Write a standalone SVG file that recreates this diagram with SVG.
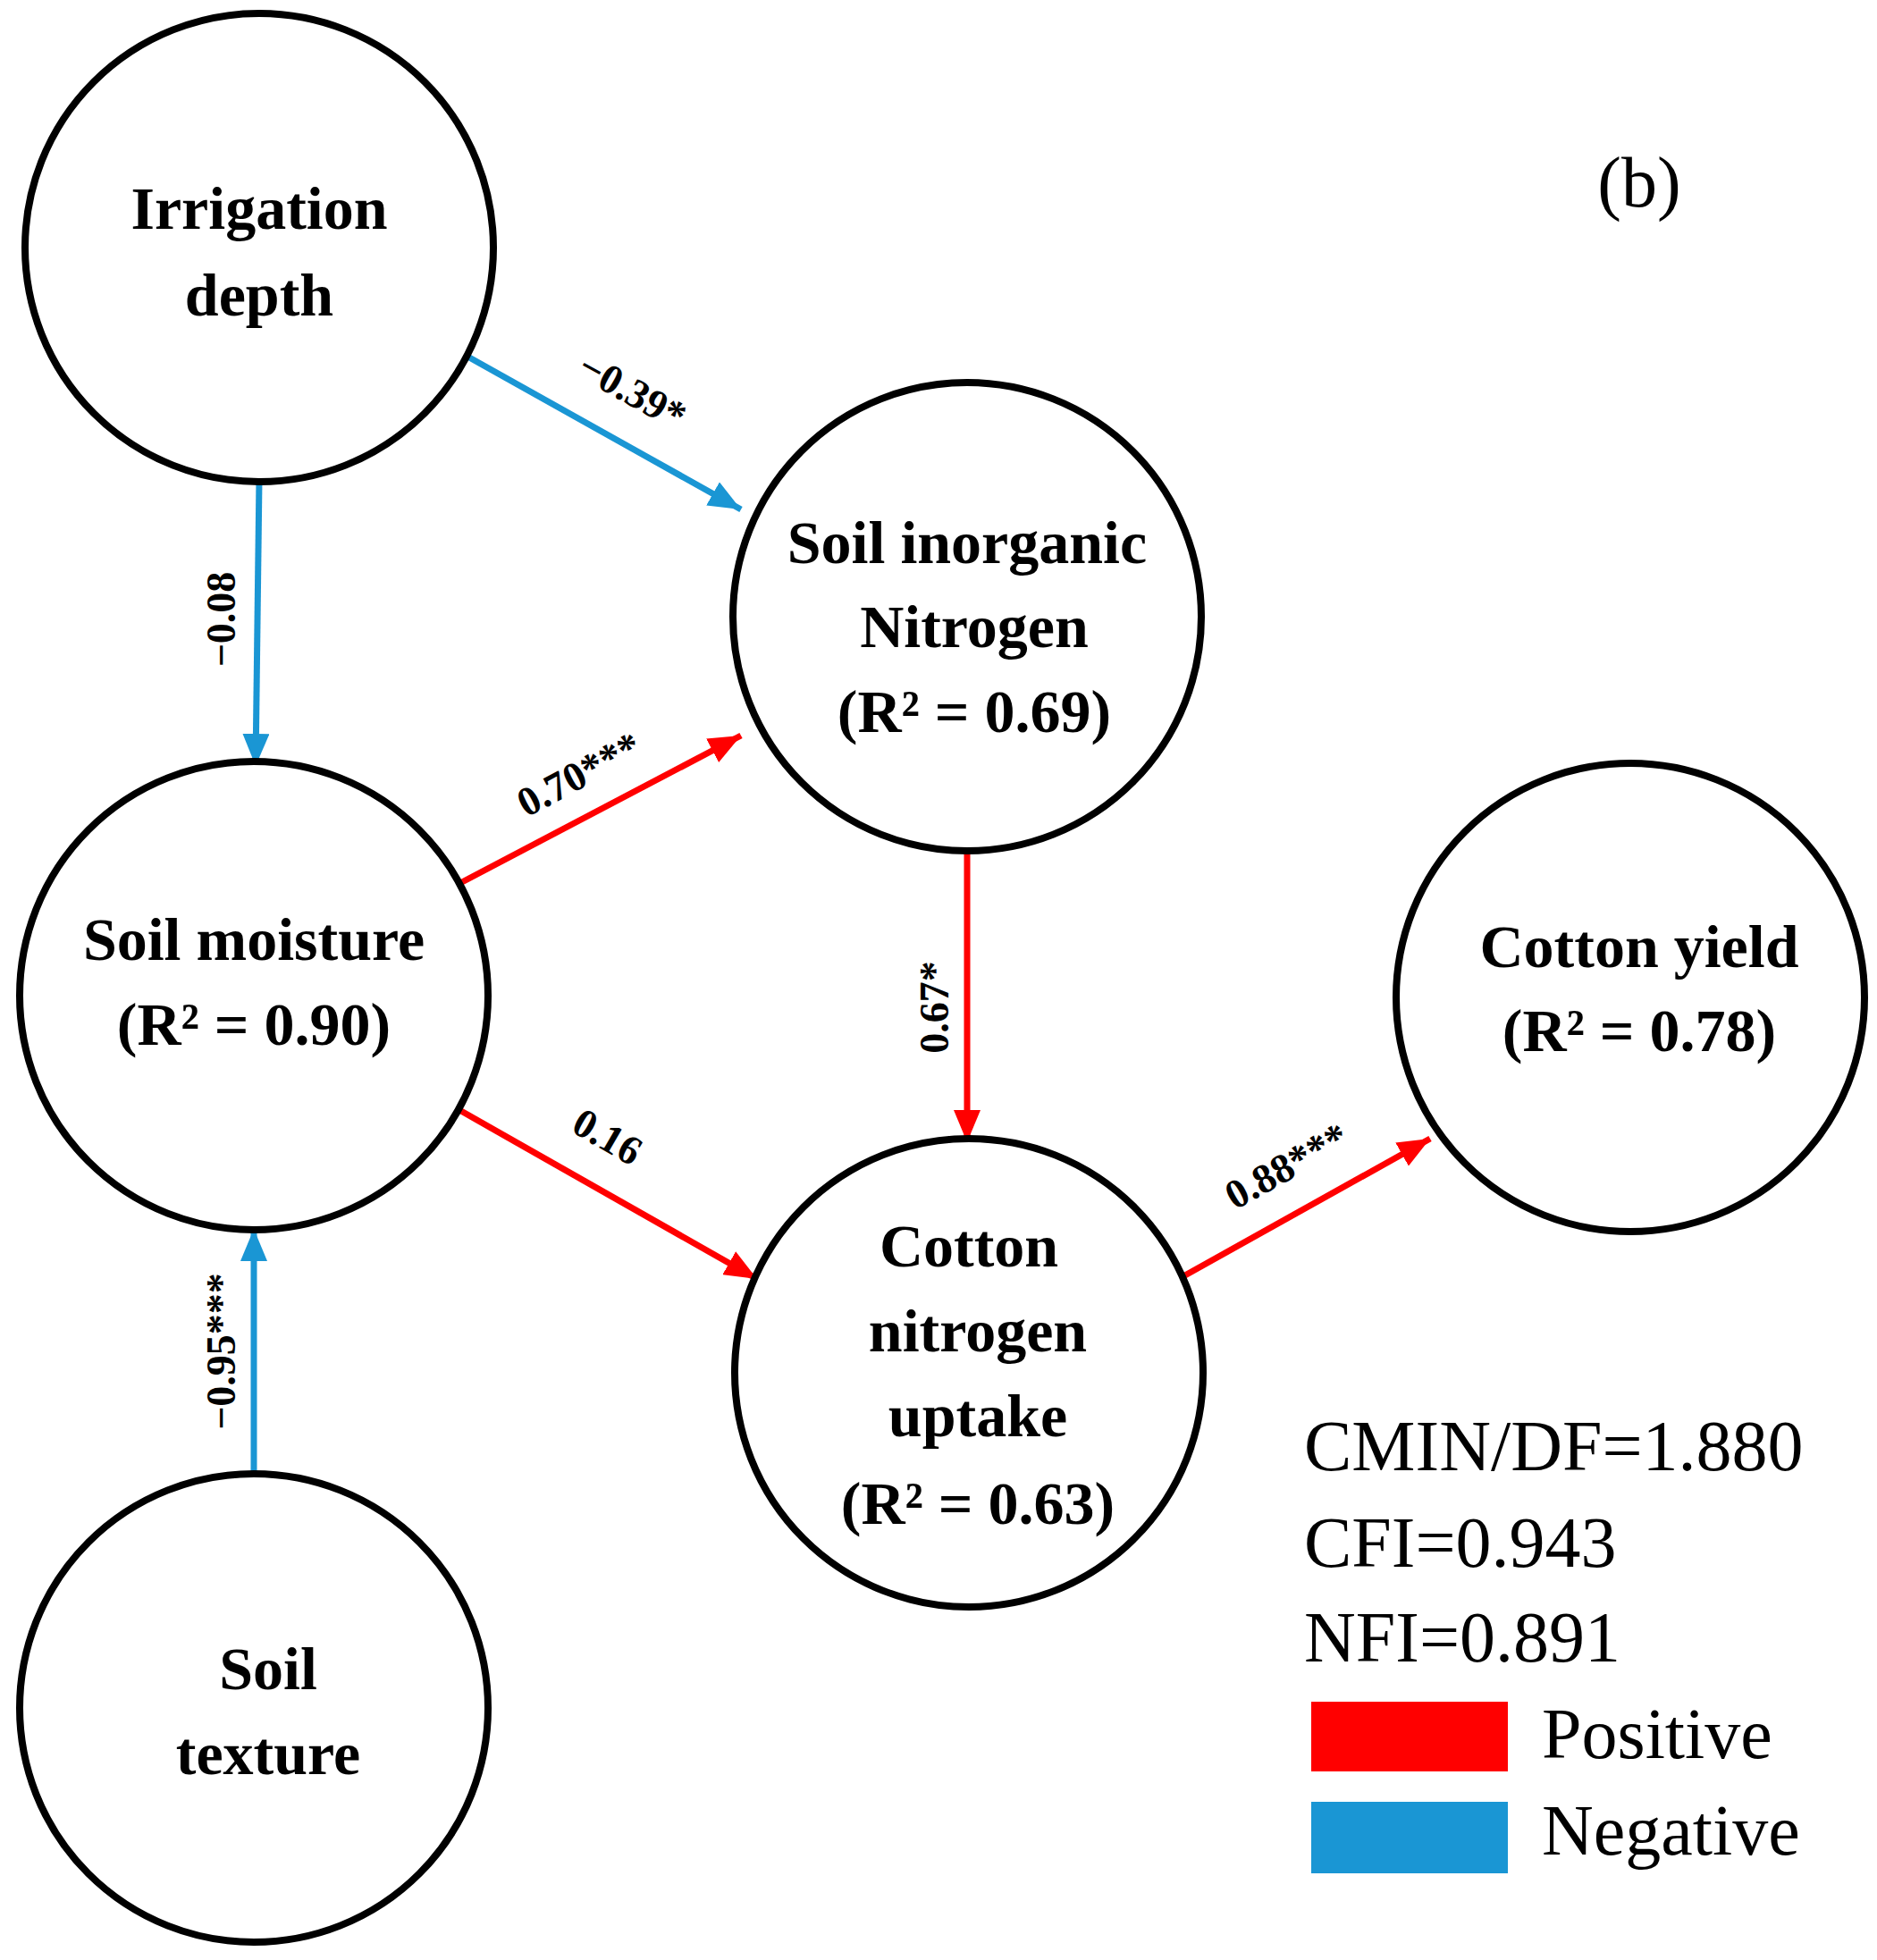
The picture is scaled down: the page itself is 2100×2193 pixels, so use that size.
<svg xmlns="http://www.w3.org/2000/svg" width="2100" height="2193" viewBox="0 0 2100 2193">
<style>
.n{fill:#fff;stroke:#000;stroke-width:8}
.t{font-family:"Liberation Serif",serif;font-weight:bold;font-size:68px;text-anchor:middle}
.l{font-family:"Liberation Serif",serif;font-weight:bold;font-size:46px;text-anchor:middle}
.g{font-family:"Liberation Serif",serif;font-size:80px}
.p{stroke:#ff0000;stroke-width:7;fill:none}
.m{stroke:#1a96d4;stroke-width:7;fill:none}
</style>
<defs>
<marker id="ar" markerUnits="userSpaceOnUse" markerWidth="40" markerHeight="30" refX="36" refY="15" orient="auto"><path d="M0,0 L36,15 L0,30 Z" fill="#ff0000"/></marker>
<marker id="ab" markerUnits="userSpaceOnUse" markerWidth="40" markerHeight="30" refX="36" refY="15" orient="auto"><path d="M0,0 L36,15 L0,30 Z" fill="#1a96d4"/></marker>
</defs>
<rect width="2100" height="2193" fill="#fff"/>
<g id="connectors">
<line class="m" x1="518" y1="396" x2="829" y2="570" marker-end="url(#ab)"/>
<line class="m" x1="290" y1="536" x2="286" y2="857" marker-end="url(#ab)"/>
<line class="p" x1="515" y1="988" x2="829" y2="823" marker-end="url(#ar)"/>
<line class="p" x1="507" y1="1238" x2="847" y2="1431" marker-end="url(#ar)"/>
<line class="p" x1="1082" y1="949" x2="1082" y2="1278" marker-end="url(#ar)"/>
<line class="p" x1="1324" y1="1428" x2="1600" y2="1274" marker-end="url(#ar)"/>
<line class="m" x1="284" y1="1652" x2="284" y2="1375" marker-end="url(#ab)"/>
<text class="l" transform="translate(700,451) rotate(29)">−0.39*</text>
<text class="l" transform="translate(263,693) rotate(-90)">−0.08</text>
<text class="l" transform="translate(655,880) rotate(-28)">0.70***</text>
<text class="l" transform="translate(672,1285) rotate(30)">0.16</text>
<text class="l" transform="translate(1061,1127) rotate(-90)">0.67*</text>
<text class="l" transform="translate(1447,1318) rotate(-29)">0.88***</text>
<text class="l" transform="translate(263,1512) rotate(-90)">−0.95***</text>
</g>
<g id="irrigation"><circle class="n" cx="290" cy="277" r="262"/><text class="t" x="290" y="256">Irrigation</text><text class="t" x="290" y="353">depth</text></g>
<g id="sin"><circle class="n" cx="1082" cy="690" r="262"/><text class="t" x="1082" y="630">Soil inorganic</text><text class="t" x="1090" y="724">Nitrogen</text><text class="t" x="1090" y="819">(R² = 0.69)</text></g>
<g id="moisture"><circle class="n" cx="284" cy="1114" r="262"/><text class="t" x="284" y="1074">Soil moisture</text><text class="t" x="284" y="1169">(R² = 0.90)</text></g>
<g id="yield"><circle class="n" cx="1824" cy="1116" r="262"/><text class="t" x="1834" y="1082">Cotton yield</text><text class="t" x="1834" y="1176">(R² = 0.78)</text></g>
<g id="uptake"><circle class="n" cx="1084" cy="1536" r="262"/><text class="t" x="1084" y="1417">Cotton</text><text class="t" x="1094" y="1512">nitrogen</text><text class="t" x="1094" y="1607">uptake</text><text class="t" x="1094" y="1705">(R² = 0.63)</text></g>
<g id="texture"><circle class="n" cx="284" cy="1911" r="262"/><text class="t" x="300" y="1890">Soil</text><text class="t" x="300" y="1985">texture</text></g>
<g id="legend">
<text class="g" x="1834" y="231" text-anchor="middle" font-size="72">(b)</text>
<text class="g" x="1459" y="1645">CMIN/DF=1.880</text>
<text class="g" x="1459" y="1753">CFI=0.943</text>
<text class="g" x="1459" y="1859">NFI=0.891</text>
<rect x="1467" y="1904" width="220" height="78" fill="#ff0000"/>
<text class="g" x="1725" y="1967">Positive</text>
<rect x="1467" y="2016" width="220" height="80" fill="#1a96d4"/>
<text class="g" x="1725" y="2075">Negative</text>
</g>
</svg>
